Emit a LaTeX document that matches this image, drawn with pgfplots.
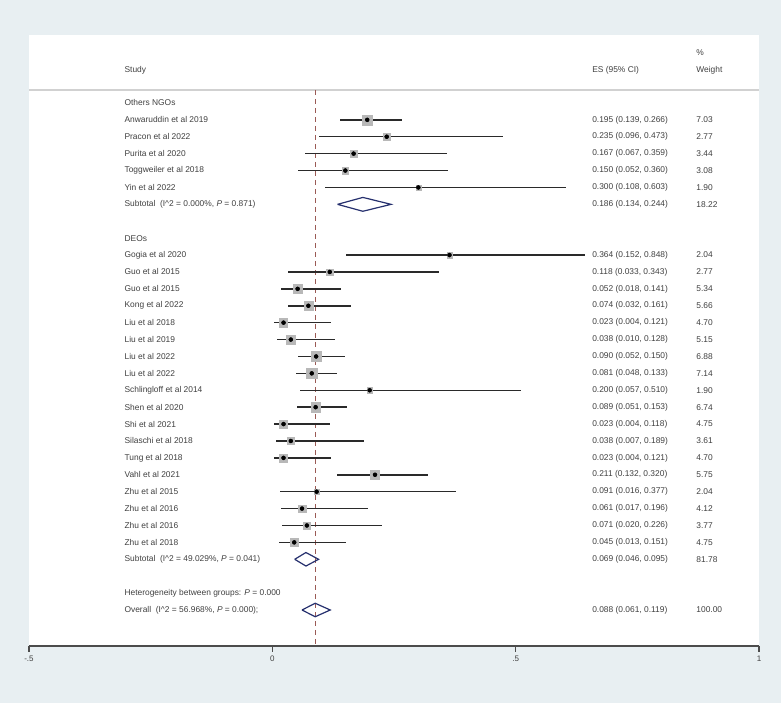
\documentclass[border=0pt]{standalone}
\usepackage{pgfplots}
\pgfplotsset{compat=1.18}
\usepackage{pgfplotstable}
\usepackage{fontspec}
\setmainfont{Liberation Sans}
\definecolor{bg}{HTML}{E8EFF2}
\definecolor{txt}{HTML}{404040}
\definecolor{refl}{HTML}{9A5A55}
\definecolor{dia}{HTML}{26306E}
\definecolor{sq}{HTML}{B8B8B8}
\definecolor{cil}{HTML}{2A2A2A}

% k = row (from top), es, drawn CI lo/hi, weight
\pgfplotstableread{
k es lo hi w
1 0.195 0.139 0.266 7.03
2 0.235 0.096 0.473 2.77
3 0.167 0.067 0.359 3.44
4 0.150 0.052 0.360 3.08
5 0.300 0.108 0.603 1.90
9 0.364 0.152 0.643 2.04
10 0.118 0.033 0.343 2.77
11 0.052 0.018 0.141 5.34
12 0.074 0.032 0.161 5.66
13 0.023 0.004 0.121 4.70
14 0.038 0.010 0.128 5.15
15 0.090 0.052 0.150 6.88
16 0.081 0.048 0.133 7.14
17 0.200 0.057 0.510 1.90
18 0.089 0.051 0.153 6.74
19 0.023 0.004 0.118 4.75
20 0.038 0.007 0.189 3.61
21 0.023 0.004 0.121 4.70
22 0.211 0.132 0.320 5.75
23 0.091 0.016 0.377 2.04
24 0.061 0.017 0.196 4.12
25 0.071 0.020 0.226 3.77
26 0.045 0.013 0.151 4.75
}\studies

\newcommand{\fs}{\fontsize{8.4}{10}\selectfont}
\begin{document}
\begin{tikzpicture}[x=1pt,y=1pt, lbl/.style={anchor=west, font=\fs, text=txt, inner sep=0pt}]
\fill[bg] (0,0) rectangle (781,703);
\begin{axis}[
  at={(29pt,57pt)}, anchor=south west,
  scale only axis, width=730pt, height=611pt,
  xmin=-0.5, xmax=1, ymin=-32.13, ymax=4.02,
  axis background/.style={fill=white},
  axis x line*=bottom, axis y line=none,
  x axis line style={-, line width=1.1pt, color=black!70},
  xtick={-0.5,0,0.5,1}, xticklabels={-.5,0,.5,1},
  tick align=outside, major tick length=6pt,
  x tick style={line width=1.1pt, color=black!70},
  xticklabel style={font=\fontsize{8}{9}\selectfont, text=txt},
  clip=false,
]
% header rule and reference line
\addplot[black!18, line width=1.2pt] coordinates {(-0.5,0.77) (1,0.77)};
\addplot[refl, line width=0.8pt, dash pattern=on 5pt off 4pt] coordinates {(0.088,0.77) (0.088,-32.13)};

% weight squares
\addplot[scatter, only marks, mark=square*,
  scatter/use mapped color={draw=sq, fill=sq},
  visualization depends on={1.9*sqrt(\thisrow{w}) \as \msize},
  scatter/@pre marker code/.append style={/tikz/mark size=\msize}]
  table[x=es, y expr=-\thisrow{k}] {\studies};

% confidence intervals
\addplot[only marks, mark=none,
  error bars/.cd, x dir=both, x explicit, error mark=none,
  error bar style={line width=1.5pt, color=cil}]
  table[x=es, y expr=-\thisrow{k},
        x error plus expr=\thisrow{hi}-\thisrow{es},
        x error minus expr=\thisrow{es}-\thisrow{lo}] {\studies};

% point estimates
\addplot[only marks, mark=*, mark size=1.8pt, black] table[x=es, y expr=-\thisrow{k}] {\studies};

% diamonds
\addplot[dia, line width=1.2pt, line join=miter] coordinates {(0.134,-6) (0.186,-5.59) (0.244,-6) (0.186,-6.41) (0.134,-6)};
\addplot[dia, line width=1.2pt, line join=miter] coordinates {(0.046,-27) (0.069,-26.6) (0.095,-27) (0.069,-27.4) (0.046,-27)};
\addplot[dia, line width=1.2pt, line join=miter] coordinates {(0.061,-30) (0.088,-29.6) (0.119,-30) (0.088,-30.4) (0.061,-30)};

% headers
\node[lbl] at (axis cs:-0.304,1.95) {Study};
\node[lbl] at (axis cs:0.657,1.95) {ES (95\% CI)};
\node[lbl] at (axis cs:0.871,2.95) {\%};
\node[lbl] at (axis cs:0.871,1.95) {Weight};

% study labels
\foreach \k/\lab in {0/Others NGOs, 1/Anwaruddin et al 2019, 2/Pracon et al 2022, 3/Purita et al 2020, 4/Toggweiler et al 2018, 5/Yin et al 2022,
  8/DEOs, 9/Gogia et al 2020, 10/Guo et al 2015, 11/Guo et al 2015, 12/Kong et al 2022, 13/Liu et al 2018, 14/Liu et al 2019, 15/Liu et al 2022, 16/Liu et al 2022,
  17/Schlingloff et al 2014, 18/Shen et al 2020, 19/Shi et al 2021, 20/Silaschi et al 2018, 21/Tung et al 2018, 22/Vahl et al 2021, 23/Zhu et al 2015, 24/Zhu et al 2016, 25/Zhu et al 2016, 26/Zhu et al 2018}
  {\edef\tmp{\noexpand\node[lbl] at (axis cs:-0.304,-\k) {\lab};}\tmp}
\node[lbl] at (axis cs:-0.304,-6) {Subtotal\ \ (I\textasciicircum 2 = 0.000\%, \textit{P} = 0.871)};
\node[lbl] at (axis cs:-0.304,-27) {Subtotal\ \ (I\textasciicircum 2 = 49.029\%, \textit{P} = 0.041)};
\node[lbl] at (axis cs:-0.304,-29) {Heterogeneity between groups: \textit{P} = 0.000};
\node[lbl] at (axis cs:-0.304,-30) {Overall\ \ (I\textasciicircum 2 = 56.968\%, \textit{P} = 0.000);};

% ES and weight columns
\foreach \k/\es/\wt in {1/0.195 (0.139{,} 0.266)/7.03, 2/0.235 (0.096{,} 0.473)/2.77, 3/0.167 (0.067{,} 0.359)/3.44, 4/0.150 (0.052{,} 0.360)/3.08, 5/0.300 (0.108{,} 0.603)/1.90, 6/0.186 (0.134{,} 0.244)/18.22,
  9/0.364 (0.152{,} 0.848)/2.04, 10/0.118 (0.033{,} 0.343)/2.77, 11/0.052 (0.018{,} 0.141)/5.34, 12/0.074 (0.032{,} 0.161)/5.66, 13/0.023 (0.004{,} 0.121)/4.70, 14/0.038 (0.010{,} 0.128)/5.15,
  15/0.090 (0.052{,} 0.150)/6.88, 16/0.081 (0.048{,} 0.133)/7.14, 17/0.200 (0.057{,} 0.510)/1.90, 18/0.089 (0.051{,} 0.153)/6.74, 19/0.023 (0.004{,} 0.118)/4.75, 20/0.038 (0.007{,} 0.189)/3.61,
  21/0.023 (0.004{,} 0.121)/4.70, 22/0.211 (0.132{,} 0.320)/5.75, 23/0.091 (0.016{,} 0.377)/2.04, 24/0.061 (0.017{,} 0.196)/4.12, 25/0.071 (0.020{,} 0.226)/3.77, 26/0.045 (0.013{,} 0.151)/4.75,
  27/0.069 (0.046{,} 0.095)/81.78, 30/0.088 (0.061{,} 0.119)/100.00}
  {\edef\tmp{\noexpand\node[lbl] at (axis cs:0.657,-\k) {\es};
   \noexpand\node[lbl] at (axis cs:0.871,-\k) {\wt};}\tmp}
\end{axis}
\end{tikzpicture}
\end{document}
